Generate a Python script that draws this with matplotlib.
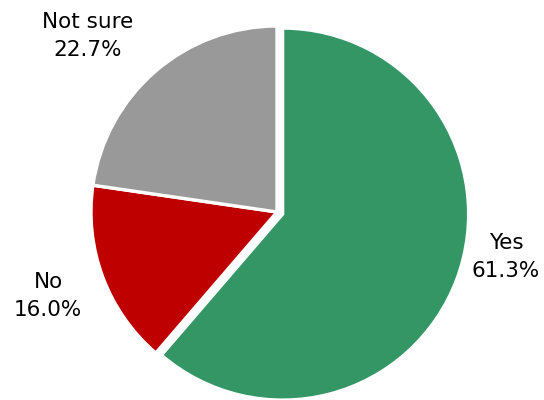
import matplotlib.pyplot as plt

labels = ["Yes", "No", "Not sure"]
shares = [61.3, 16.0, 22.7]
colors = ["#339664", "#BE0000", "#999999"]

fig = plt.figure(figsize=(5.44, 4.0), dpi=100)
ax = fig.add_axes([0, 0, 1, 1])

ax.pie(shares, colors=colors, radius=186, center=(277, 188),
       startangle=90, counterclock=False, explode=[6, 0, 0],
       wedgeprops=dict(edgecolor="white", linewidth=2.4))

ax.set_xlim(0, 544)
ax.set_ylim(0, 400)
ax.set_aspect("equal")
ax.axis("off")

# label positions beside each slice
label_xy = [(506, 143), (48, 104), (88, 364)]
for name, val, (x, y) in zip(labels, shares, label_xy):
    ax.text(x, y, f"{name}\n{val:.1f}%", ha="center", va="center",
            fontsize=15.5, linespacing=1.5, color="black")

fig.savefig("out.png", dpi=100)
